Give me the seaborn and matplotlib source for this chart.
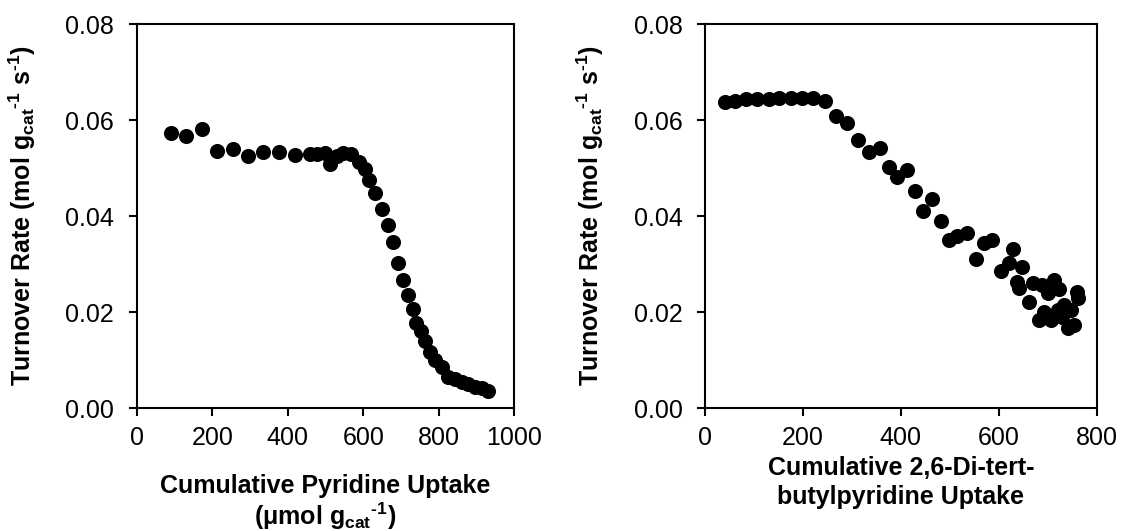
import matplotlib
matplotlib.use("Agg")
import matplotlib.pyplot as plt
import seaborn as sns
import pandas as pd

# Pyridine titration
pyr_uptake = [90, 131, 173, 213, 254, 295, 335, 377, 419, 459, 478, 498, 512, 530,
              547, 567, 588, 604, 616, 632, 650, 666, 680, 692, 706, 719, 731, 740,
              752, 763, 777, 790, 808, 825, 843, 861, 878, 896, 914, 931]
pyr_rate = [0.0572, 0.0567, 0.0581, 0.0535, 0.0539, 0.0525, 0.0533, 0.0533, 0.0527,
            0.0529, 0.0529, 0.0531, 0.0508, 0.0525, 0.0532, 0.0529, 0.0513, 0.0497,
            0.0475, 0.0447, 0.0414, 0.0381, 0.0345, 0.0303, 0.0267, 0.0235, 0.0206,
            0.0178, 0.0161, 0.0140, 0.0117, 0.0100, 0.0085, 0.0065, 0.0060, 0.0055,
            0.0050, 0.0044, 0.0041, 0.0036]

# 2,6-di-tert-butylpyridine titration
dtbp_uptake = [40, 61, 84, 107, 130, 152, 175, 199, 220, 245, 267, 290, 313, 334,
               358, 375, 392, 412, 428, 446, 463, 481, 498, 515, 536, 553, 569, 587,
               604, 621, 630, 648, 637, 641, 662, 669, 682, 689, 700, 713, 723, 706,
               720, 734, 730, 741, 754, 747, 761, 759, 693]
dtbp_rate = [0.0637, 0.0640, 0.0643, 0.0643, 0.0644, 0.0645, 0.0645, 0.0646, 0.0645,
             0.0640, 0.0608, 0.0593, 0.0558, 0.0534, 0.0541, 0.0503, 0.0481, 0.0496,
             0.0453, 0.0410, 0.0435, 0.0390, 0.0351, 0.0358, 0.0365, 0.0310, 0.0343,
             0.0351, 0.0286, 0.0303, 0.0331, 0.0294, 0.0263, 0.0249, 0.0221, 0.0261,
             0.0183, 0.0256, 0.0239, 0.0267, 0.0247, 0.0183, 0.0204, 0.0215, 0.0190,
             0.0166, 0.0173, 0.0204, 0.0229, 0.0242, 0.0199]

y_ticks = [0.00, 0.02, 0.04, 0.06, 0.08]
y_ticklabels = ["0.00", "0.02", "0.04", "0.06", "0.08"]
pyr_xticks = [0, 200, 400, 600, 800, 1000]
dtbp_xticks = [0, 200, 400, 600, 800]

ylabel = r"Turnover Rate (mol g$_{cat}$$^{\text{-1}}$ s$^{\text{-1}}$)"
pyr_xlabel = "Cumulative Pyridine Uptake\n" + r"(μmol g$_{cat}$$^{\text{-1}}$)"
dtbp_xlabel = "Cumulative 2,6-Di-tert-\nbutylpyridine Uptake"

sns.set_style("ticks")
plt.rcParams.update({
    "font.family": ["Liberation Sans", "DejaVu Sans"],
    "font.size": 18,
    "text.color": "black",
    "axes.labelcolor": "black",
    "mathtext.fontset": "custom",
    "mathtext.rm": "Liberation Sans:bold",
    "mathtext.bf": "Liberation Sans:bold",
    "mathtext.it": "Liberation Sans:bold",
    "mathtext.default": "bf",
    "axes.linewidth": 1.5,
    "xtick.major.width": 1.5,
    "ytick.major.width": 1.5,
    "xtick.major.size": 5.7,
    "ytick.major.size": 5.7,
    "xtick.direction": "out",
    "ytick.direction": "out",
    "xtick.color": "black",
    "ytick.color": "black",
    "axes.edgecolor": "black",
})

fig = plt.figure(figsize=(11.21, 5.31), dpi=100)
ax1 = fig.add_axes([136.7 / 1121, 1 - 408 / 531, (514.3 - 136.7) / 1121, 384 / 531])
ax2 = fig.add_axes([705 / 1121, 1 - 408 / 531, (1096.7 - 705) / 1121, 384 / 531])

df_pyr = pd.DataFrame({"uptake": pyr_uptake, "rate": pyr_rate})
df_dtbp = pd.DataFrame({"uptake": dtbp_uptake, "rate": dtbp_rate})

sns.scatterplot(data=df_pyr, x="uptake", y="rate", ax=ax1, color="black",
                s=118, linewidth=0, zorder=3)
sns.scatterplot(data=df_dtbp, x="uptake", y="rate", ax=ax2, color="black",
                s=118, linewidth=0, zorder=3)

for ax, xt, xl, ylc, xlc, ls in [
    (ax1, pyr_xticks, pyr_xlabel, -0.262, -0.172, 1.12),
    (ax2, dtbp_xticks, dtbp_xlabel, -0.253, -0.124, 1.3),
]:
    ax.set_xlim(xt[0], xt[-1])
    ax.set_ylim(0, 0.08)
    ax.set_xticks(xt)
    ax.set_xticklabels([str(v) for v in xt])
    ax.set_yticks(y_ticks)
    ax.set_yticklabels(y_ticklabels)
    ax.tick_params(axis="x", pad=7, labelsize=18, labelcolor="black")
    ax.tick_params(axis="y", pad=10.5, labelsize=18, labelcolor="black")
    for sp in ax.spines.values():
        sp.set_visible(True)
        sp.set_color("black")
        sp.set_linewidth(1.5)
    ax.set_xlabel(xl, fontsize=18, fontweight="bold", linespacing=ls, color="black")
    ax.set_ylabel(ylabel, fontsize=18, fontweight="bold", color="black")
    ax.xaxis.set_label_coords(0.5, xlc)
    ax.yaxis.set_label_coords(ylc, 0.5)

fig.savefig("out.png", dpi=100)
